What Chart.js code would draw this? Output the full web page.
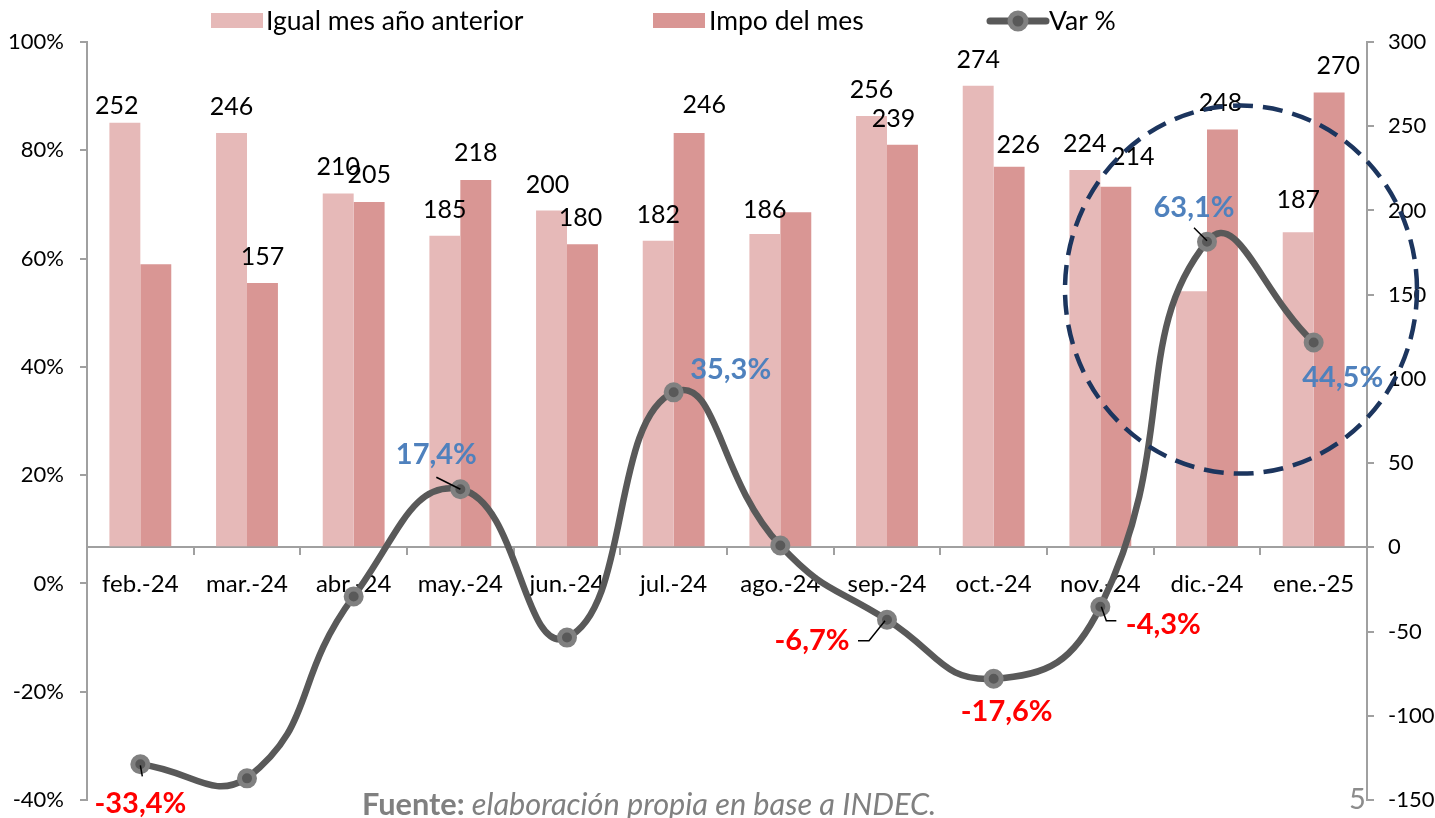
<!DOCTYPE html>
<html><head><meta charset="utf-8">
<script src="https://cdn.jsdelivr.net/npm/chart.js@4.4.1/dist/chart.umd.min.js"></script>
<style>html,body{margin:0;padding:0;background:#fff}#wrap{width:1435px;height:818px;position:relative}</style>
</head><body><div id="wrap"><canvas id="c" width="1435" height="818"></canvas></div>
<script>
// ---------- DATA ----------
const categories = ['feb.-24','mar.-24','abr.-24','may.-24','jun.-24','jul.-24','ago.-24','sep.-24','oct.-24','nov.-24','dic.-24','ene.-25'];
const igualMesAnioAnterior = [252,246,210,185,200,182,186,256,274,224,152,187];
const impoDelMes = [168,157,205,218,180,246,199,239,226,214,248,270];
const varPct = [-33.4,-36.0,-2.4,17.4,-10.0,35.3,7.0,-6.7,-17.6,-4.3,63.1,44.5];
const leftTicks = [-40,-20,0,20,40,60,80,100];
const rightTicks = [-150,-100,-50,0,50,100,150,200,250,300];
const seriesNames = ['Igual mes año anterior','Impo del mes','Var %'];
const showIgualLabel = [1,1,1,1,1,1,1,1,1,1,0,1];
const showImpoLabel  = [0,1,1,1,1,1,0,1,1,1,1,1];
const showVarLabel   = [1,0,0,1,0,1,0,1,1,1,1,1];
const sourceBold = 'Fuente:';
const sourceText = ' elaboración propia en base a INDEC.';
const pageNumber = '5';

// ---------- STYLE / LAYOUT ----------
const FONT = 'Lato, "Noto Sans", sans-serif';
const C_IGUAL = '#e6b9b8', C_IMPO = '#d99694', C_LINE = '#595959', C_RING = '#808080', C_AXIS = '#a0a0a0';
const C_POS = '#4f81bd', C_NEG = '#ff0000';
// label nudges [dx, dy] relative to default position above bar
const igualNudge = [[-8,9],[0,0],[0,-1],[0,0],[-4,0],[0,0],[0,2],[0,0],[0,0],[0,0],[0,0],[0,-6]];
const impoNudge  = [[0,0],[0,0],[0,-1],[0,-1],[-2,0],[15,-2],[0,0],[-9,0],[9,4],[17,-4],[-2,-1],[9,-1]];
// var label offsets [dx,dy] from marker, and leader polylines
const varOffset = [[0,39],null,null,[-24,-35],null,[57,-23],null,[-75,21],[13,33],[63,18],[-13,-34],[29,35]];
const varLeader = [[[0,1],[2,12]],null,null,[[-24,-12],[0,0]],null,null,null,[[-29,21],[-18,21],[-2,1]],null,[[1,0],[6,14],[16,14]],[[-13,-14],[0,-1]],null];

const fmtPct = v => v.toFixed(1).replace('.', ',') + '%';

const overlay = {
  id: 'overlay',
  afterDatasetsDraw(chart) {
    const ctx = chart.ctx;
    const mI = chart.getDatasetMeta(0), mM = chart.getDatasetMeta(1), mL = chart.getDatasetMeta(2);
    ctx.save();
    // bar value labels
    ctx.font = '25px ' + FONT; ctx.fillStyle = '#000'; ctx.textAlign = 'center'; ctx.textBaseline = 'middle';
    mI.data.forEach((b,i) => { if (!showIgualLabel[i]) return; const n = igualNudge[i]; ctx.fillText(String(igualMesAnioAnterior[i]), b.x + n[0], b.y - 26 + n[1]); });
    mM.data.forEach((b,i) => { if (!showImpoLabel[i]) return; const n = impoNudge[i]; ctx.fillText(String(impoDelMes[i]), b.x + n[0], b.y - 26 + n[1]); });
    // leader lines
    ctx.strokeStyle = '#000'; ctx.lineWidth = 1.5;
    mL.data.forEach((p,i) => {
      const L = varLeader[i]; if (!L) return;
      ctx.beginPath(); L.forEach((q,k) => { if (k===0) ctx.moveTo(p.x+q[0], p.y+q[1]); else ctx.lineTo(p.x+q[0], p.y+q[1]); }); ctx.stroke();
    });
    // var labels
    ctx.font = 'bold 29px ' + FONT;
    mL.data.forEach((p,i) => {
      if (!showVarLabel[i]) return; const o = varOffset[i];
      ctx.fillStyle = varPct[i] >= 0 ? C_POS : C_NEG;
      ctx.fillText(fmtPct(varPct[i]), p.x + o[0], p.y + o[1]);
    });
    // dashed highlight ellipse
    const xs = chart.scales.x, yr = chart.scales.yR;
    const cx = xs.getPixelForValue(10) + 34, cy = yr.getPixelForValue(153);
    ctx.beginPath(); ctx.setLineDash([20,10]); ctx.lineWidth = 4.5; ctx.strokeStyle = '#1c355e';
    ctx.ellipse(cx, cy, 176, 184, 0, 0, Math.PI*2); ctx.stroke(); ctx.setLineDash([]);
    // legend
    ctx.font = '26.5px ' + FONT; ctx.textAlign = 'left';
    ctx.fillStyle = C_IGUAL; ctx.fillRect(211,13,52,15);
    ctx.fillStyle = '#000'; ctx.fillText(seriesNames[0], 266, 21);
    ctx.fillStyle = C_IMPO; ctx.fillRect(653,13,52,15);
    ctx.fillStyle = '#000'; ctx.fillText(seriesNames[1], 709, 21);
    ctx.strokeStyle = C_LINE; ctx.lineWidth = 7; ctx.lineCap = 'round';
    ctx.beginPath(); ctx.moveTo(990,21); ctx.lineTo(1046,21); ctx.stroke(); ctx.lineCap = 'butt';
    ctx.beginPath(); ctx.arc(1018,21,8,0,Math.PI*2); ctx.fillStyle = C_LINE; ctx.fill(); ctx.lineWidth = 5; ctx.strokeStyle = C_RING; ctx.stroke();
    ctx.fillStyle = '#000'; ctx.fillText(seriesNames[2], 1049, 21);
    // source
    ctx.fillStyle = '#808080'; ctx.font = 'bold 30.7px ' + FONT; ctx.fillText(sourceBold, 362, 805);
    const w = ctx.measureText(sourceBold).width;
    ctx.font = 'italic 30.7px ' + FONT; ctx.fillText(sourceText, 362 + w, 805);
    ctx.font = '29px ' + FONT; ctx.fillStyle = '#8c8c8c'; ctx.fillText(pageNumber, 1349, 800);
    ctx.restore();
  }
};

const noPad = s => { s.paddingTop = 0; s.paddingBottom = 0; };

new Chart(document.getElementById('c'), {
  data: {
    labels: categories,
    datasets: [
      { type:'bar', label: seriesNames[0], data: igualMesAnioAnterior, yAxisID:'yR', backgroundColor: C_IGUAL, categoryPercentage:0.58, barPercentage:1.0, order:1 },
      { type:'bar', label: seriesNames[1], data: impoDelMes, yAxisID:'yR', backgroundColor: C_IMPO, categoryPercentage:0.58, barPercentage:1.0, order:1 },
      { type:'line', label: seriesNames[2], data: varPct, yAxisID:'y', borderColor: C_LINE, borderWidth:6.5, tension:0.5,
        pointRadius:7.5, pointBorderWidth:5, pointBackgroundColor: C_LINE, pointBorderColor: C_RING, order:0, clip:false }
    ]
  },
  options: {
    responsive:false, animation:false, devicePixelRatio:1,
    layout: { padding: { top:42, bottom:18, left:0, right:0 } },
    plugins: { legend:{display:false}, tooltip:{enabled:false} },
    scales: {
      x: { type:'category', position:{ yR:0 }, offset:true,
        afterFit: s => { s.paddingLeft = 0; s.paddingRight = 0; s.paddingTop = 0; s.paddingBottom = 0; },
        grid:{ display:true, drawOnChartArea:false, drawTicks:true, tickLength:7, color:C_AXIS, lineWidth:2, offset:true },
        border:{ display:true, color:C_AXIS, width:2 },
        ticks:{ color:'#000', font:{ family:FONT, size:24 }, padding:16, maxRotation:0, autoSkip:false } },
      y: { position:'left', min:-40, max:100,
        afterBuildTicks: s => { s.ticks = leftTicks.map(v => ({ value:v })); },
        afterFit: s => { s.width = 87; noPad(s); },
        grid:{ drawOnChartArea:false, tickLength:7, color:C_AXIS, lineWidth:2 },
        border:{ color:C_AXIS, width:2 },
        ticks:{ color:'#000', font:{ family:FONT, size:22 }, padding:16, callback: v => v + '%' } },
      yR: { position:'right', min:-150, max:300,
        afterBuildTicks: s => { s.ticks = rightTicks.map(v => ({ value:v })); },
        afterFit: s => { s.width = 68; noPad(s); },
        grid:{ drawOnChartArea:false, tickLength:7, color:C_AXIS, lineWidth:2 },
        border:{ color:C_AXIS, width:2 },
        ticks:{ color:'#000', font:{ family:FONT, size:22 }, padding:14 } }
    }
  },
  plugins:[overlay, { id:'bg', beforeDraw(c){ const g=c.ctx; g.save(); g.fillStyle='#fff'; g.fillRect(0,0,c.width,c.height); g.restore(); } }]
});
</script></body></html>
